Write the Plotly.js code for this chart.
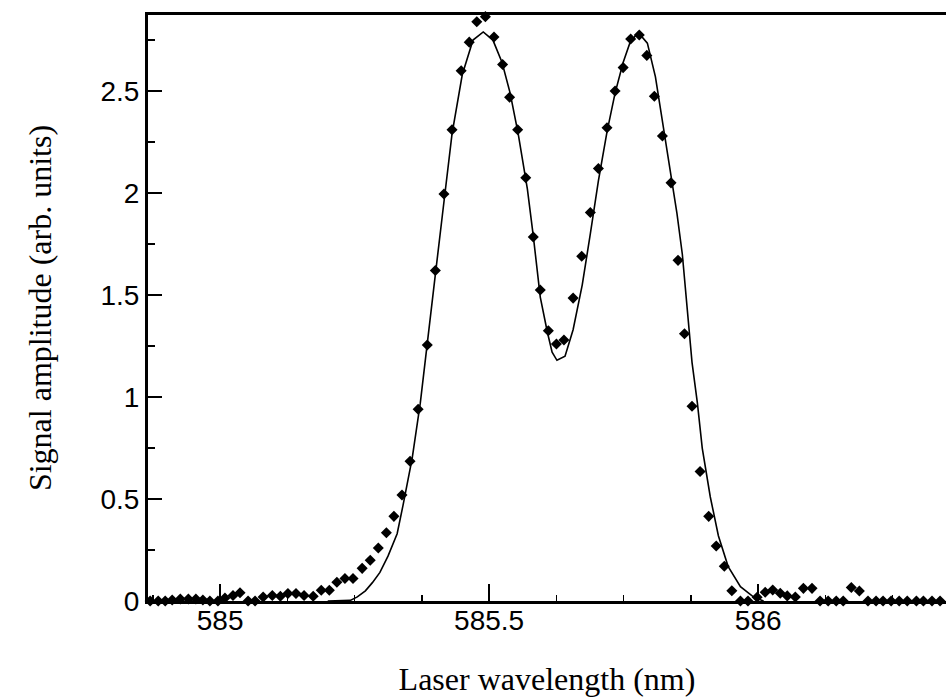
<!DOCTYPE html>
<html>
<head>
<meta charset="utf-8">
<script src="https://cdn.plot.ly/plotly-3.0.1.min.js"></script>
<style>
  html, body { margin: 0; padding: 0; background: #ffffff; }
  #plot { width: 946px; height: 698px; }
</style>
</head>
<body>
<div id="plot"></div>
<script>
// Measured signal (diamonds): laser wavelength in nm and signal amplitude
const wavelength = [
  584.870, 584.885, 584.898, 584.911, 584.926, 584.941, 584.955, 584.968, 584.981, 584.996,
  585.009, 585.024, 585.037, 585.052, 585.065, 585.080, 585.097, 585.112, 585.126, 585.141,
  585.156, 585.173, 585.188, 585.203, 585.217, 585.232, 585.247, 585.264, 585.279, 585.294,
  585.309, 585.323, 585.338, 585.353, 585.368, 585.385, 585.400, 585.416, 585.431, 585.448,
  585.463, 585.477, 585.493, 585.509, 585.525, 585.538, 585.553, 585.568, 585.582, 585.595,
  585.610, 585.625, 585.639, 585.656, 585.672, 585.688, 585.703, 585.719, 585.734, 585.749,
  585.763, 585.779, 585.793, 585.807, 585.822, 585.838, 585.851, 585.863, 585.877, 585.892,
  585.908, 585.922, 585.937, 585.951, 585.967, 585.981, 585.998, 586.013, 586.027, 586.041,
  586.054, 586.069, 586.084, 586.100, 586.115, 586.130, 586.145, 586.158, 586.173, 586.188,
  586.204, 586.219, 586.232, 586.247, 586.262, 586.277, 586.294, 586.307, 586.323, 586.338
];
const amplitude = [
  0.000, 0.000, 0.000, 0.005, 0.010, 0.010, 0.010, 0.005, 0.000, 0.000,
  0.015, 0.027, 0.040, 0.000, 0.000, 0.020, 0.027, 0.023, 0.037, 0.037,
  0.027, 0.023, 0.053, 0.053, 0.092, 0.110, 0.110, 0.160, 0.200, 0.260,
  0.335, 0.415, 0.520, 0.685, 0.940, 1.255, 1.620, 1.995, 2.310, 2.600,
  2.740, 2.840, 2.865, 2.765, 2.630, 2.470, 2.310, 2.075, 1.785, 1.525,
  1.325, 1.260, 1.280, 1.485, 1.690, 1.905, 2.120, 2.320, 2.500, 2.615,
  2.755, 2.775, 2.675, 2.475, 2.280, 2.050, 1.670, 1.310, 0.955, 0.635,
  0.415, 0.270, 0.170, 0.050, 0.000, 0.000, 0.018, 0.043, 0.054, 0.038,
  0.025, 0.020, 0.062, 0.062, 0.000, 0.000, 0.000, 0.000, 0.066, 0.049,
  0.000, 0.000, 0.000, 0.000, 0.000, 0.000, 0.000, 0.000, 0.000, 0.000
];

// Fitted double-peak profile (solid line)
const fitWavelength = [
  585.200, 585.242, 585.255, 585.270, 585.283, 585.297, 585.312, 585.329, 585.340, 585.357,
  585.372, 585.385, 585.400, 585.413, 585.431, 585.450, 585.470, 585.489, 585.507, 585.524,
  585.539, 585.554, 585.571, 585.582, 585.595, 585.608, 585.617, 585.626, 585.641, 585.656,
  585.673, 585.688, 585.703, 585.719, 585.734, 585.749, 585.762, 585.777, 585.794, 585.809,
  585.823, 585.840, 585.849, 585.859, 585.868, 585.877, 585.887, 585.896, 585.911, 585.926,
  585.944, 585.967, 585.991, 586.010
];
const fitAmplitude = [
  0.000, 0.003, 0.020, 0.050, 0.090, 0.140, 0.220, 0.330, 0.470, 0.700,
  0.970, 1.250, 1.600, 1.890, 2.290, 2.580, 2.750, 2.790, 2.750, 2.640,
  2.490, 2.290, 2.020, 1.790, 1.490, 1.320, 1.220, 1.180, 1.200, 1.330,
  1.550, 1.800, 2.060, 2.300, 2.490, 2.640, 2.740, 2.787, 2.735, 2.570,
  2.330, 2.060, 1.900, 1.700, 1.420, 1.170, 0.970, 0.750, 0.510, 0.320,
  0.170, 0.070, 0.020, 0.000
];

// Axis ticks
const xTickVals = [585, 585.5, 586];
const xTickText = ['585', '585.5', '586'];
const yTickVals = [0, 0.5, 1, 1.5, 2, 2.5];
const yTickText = ['0', '0.5', '1', '1.5', '2', '2.5'];

const tickFont = { family: 'Liberation Sans, Arial, sans-serif', size: 28, color: '#000' };
const titleFont = { family: 'Liberation Serif, Times New Roman, serif', size: 32, color: '#000' };

const traces = [
  {
    x: fitWavelength,
    y: fitAmplitude,
    type: 'scatter',
    mode: 'lines',
    line: { color: '#000', width: 1.6 },
    hoverinfo: 'skip',
    cliponaxis: false
  },
  {
    x: wavelength,
    y: amplitude,
    type: 'scatter',
    mode: 'markers',
    marker: { symbol: 'diamond', size: 8.5, color: '#000' },
    cliponaxis: false
  }
];

const layout = {
  width: 946,
  height: 698,
  margin: { l: 148, r: 0, t: 15, b: 97 },
  paper_bgcolor: '#fff',
  plot_bgcolor: '#fff',
  showlegend: false,
  xaxis: {
    range: [584.866, 586.349],
    showgrid: false,
    zeroline: false,
    showline: true,
    linecolor: '#000',
    linewidth: 3,
    mirror: true,
    ticks: 'inside',
    ticklen: 17,
    tickwidth: 2,
    tickcolor: '#000',
    tickvals: xTickVals,
    ticktext: xTickText,
    tickfont: tickFont,
    ticklabelstandoff: -8,
    minor: { tick0: 585, dtick: 0.125, ticks: 'inside', ticklen: 6, tickwidth: 1.5, tickcolor: '#000', showgrid: false },
    title: { text: 'Laser wavelength (nm)', font: titleFont, standoff: 34 }
  },
  yaxis: {
    range: [0, 2.873],
    showgrid: false,
    zeroline: false,
    showline: true,
    linecolor: '#000',
    linewidth: 3,
    ticks: 'inside',
    ticklen: 14,
    tickwidth: 2,
    tickcolor: '#000',
    tickvals: yTickVals,
    ticktext: yTickText,
    tickfont: tickFont,
    minor: { tick0: 0, dtick: 0.25, ticks: 'inside', ticklen: 7, tickwidth: 1.5, tickcolor: '#000', showgrid: false },
    title: { text: 'Signal amplitude (arb. units)', font: titleFont, standoff: 40 }
  }
};

Plotly.newPlot('plot', traces, layout, { displayModeBar: false, staticPlot: true });
</script>
</body>
</html>
